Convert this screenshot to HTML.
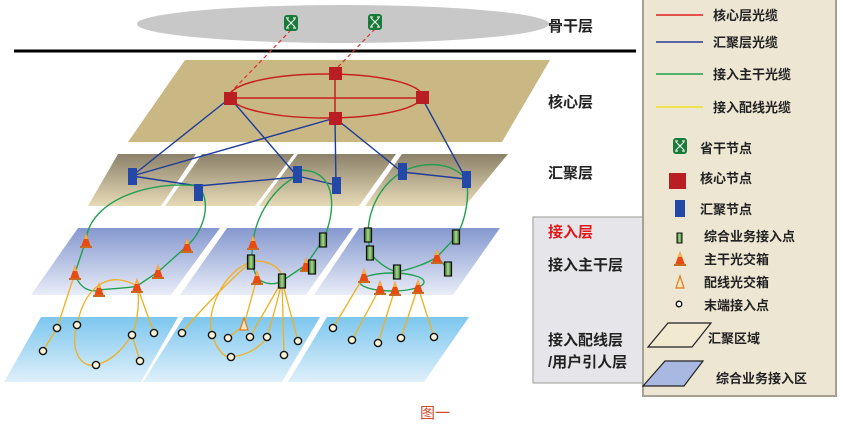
<!DOCTYPE html>
<html><head><meta charset="utf-8"><style>
html,body{margin:0;padding:0;background:#fff;}
svg{display:block;}
text{font-family:"Liberation Sans","Noto Sans CJK SC",sans-serif;}
</style></head><body>
<svg width="843" height="430" viewBox="0 0 843 430" xmlns="http://www.w3.org/2000/svg">
<defs>
<linearGradient id="agg" x1="0" y1="0" x2="0" y2="1"><stop offset="0" stop-color="#8c826a"/><stop offset="1" stop-color="#e6dab6"/></linearGradient>
<linearGradient id="acc" x1="0" y1="0" x2="0" y2="1"><stop offset="0" stop-color="#8598cf"/><stop offset="1" stop-color="#e9edf8"/></linearGradient>
<linearGradient id="dist" x1="0" y1="0" x2="0" y2="1"><stop offset="0" stop-color="#7cc6ee"/><stop offset="1" stop-color="#dff0fa"/></linearGradient>
<linearGradient id="gb" x1="0" y1="0" x2="1" y2="0"><stop offset="0" stop-color="#2e6a1e"/><stop offset="0.5" stop-color="#a8d890"/><stop offset="1" stop-color="#2e6a1e"/></linearGradient>
<g id="box"><rect x="-3.5" y="-7" width="7" height="14" fill="url(#gb)" stroke="#111" stroke-width="1.2"/></g>
<g id="cone"><polygon points="0,-9 5,5 -5,5" fill="#e84a10"/><polygon points="0,-9 2,-3 -2,-3" fill="#f8b040"/><rect x="-6" y="4" width="12" height="2" fill="#c86a20"/></g>
<g id="dot"><circle r="3.6" fill="#fbf3d8" stroke="#111" stroke-width="1.4"/></g>
<g id="sw"><rect x="-7" y="-8" width="14" height="16" rx="3" fill="#1a7a3a"/><path d="M-4,-4 L4,4 M4,-4 L-4,4 M-5,-5 h3 M2,-5 h3 M-5,5 h3 M2,5 h3" stroke="#e8f4e8" stroke-width="1.2" fill="none"/></g>
</defs>

<!-- backbone -->
<ellipse cx="343" cy="24" rx="206" ry="19" fill="#c8c8c8"/>
<line x1="14" y1="51" x2="636" y2="51" stroke="#000" stroke-width="3"/>
<text x="548" y="31" font-size="15" font-weight="bold" fill="#222">骨干层</text>

<!-- core plane -->
<polygon points="185,60 550,60 502,142 128,142" fill="#c9b884"/>
<text x="548" y="107" font-size="15" font-weight="bold" fill="#222">核心层</text>
<line x1="291" y1="30" x2="230" y2="93" stroke="#e03030" stroke-width="1.2" stroke-dasharray="4,3"/>
<line x1="375" y1="29" x2="335" y2="70" stroke="#e03030" stroke-width="1.2" stroke-dasharray="4,3"/>

<!-- agg planes -->
<polygon points="118,154 196,154 161,206 88,206" fill="url(#agg)"/>
<polygon points="202,154 294,154 255,206 165,206" fill="url(#agg)"/>
<polygon points="298,154 396,154 359,206 259,206" fill="url(#agg)"/>
<polygon points="402,154 508,154 465,206 365,206" fill="url(#agg)"/>
<text x="548" y="178" font-size="15" font-weight="bold" fill="#222">汇聚层</text>

<!-- access trunk planes -->
<polygon points="78,228 220,228 171,295 31,295" fill="url(#acc)"/>
<polygon points="227,228 353,228 306,295 180,295" fill="url(#acc)"/>
<polygon points="359,228 500,228 453,295 314,295" fill="url(#acc)"/>
<!-- dist planes -->
<polygon points="41,317 178,317 141,382 4,382" fill="url(#dist)"/>
<polygon points="184,317 320,317 282,382 143,382" fill="url(#dist)"/>
<polygon points="327,317 469,317 424,382 288,382" fill="url(#dist)"/>

<!-- core red lines -->
<g stroke="#c82020" stroke-width="1.5" fill="none">
<ellipse cx="326" cy="96" rx="96" ry="22"/>
<line x1="230" y1="98" x2="422" y2="98"/>
<line x1="335" y1="73" x2="335" y2="118"/>
</g>
<!-- blue lines -->
<g stroke="#1e3c9a" stroke-width="1.4" fill="none">
<line x1="230" y1="98" x2="132" y2="176"/>
<line x1="230" y1="98" x2="297" y2="176"/>
<line x1="335" y1="118" x2="132" y2="176"/>
<line x1="335" y1="118" x2="336" y2="185"/>
<line x1="335" y1="118" x2="402" y2="172"/>
<line x1="422" y1="98" x2="466" y2="179"/>
<line x1="132" y1="176" x2="198" y2="186"/>
<line x1="198" y1="186" x2="297" y2="177"/>
<line x1="297" y1="176" x2="336" y2="185"/>
<line x1="402" y1="172" x2="466" y2="179"/>
</g>
<!-- green lines -->
<g stroke="#20a050" stroke-width="1.4" fill="none">
<path d="M198,186 C150,180 90,200 86,240 L75,273 C80,292 95,292 99,290 C120,288 130,288 137,286 L158,272 L187,246 C205,230 212,200 198,186"/>
<path d="M297,176 C270,190 255,220 253,243 L251,262 L257,278 C265,285 275,285 282,281 L306,265 L323,240 C335,215 340,170 300,170"/>
<path d="M402,172 C380,185 368,210 368,235 L370,253 C380,265 390,270 397,272 C415,268 430,262 437,257 L456,237 C466,220 470,195 466,179 C450,160 420,162 402,172"/>
<line x1="437" y1="257" x2="448" y2="269"/>
<ellipse cx="392" cy="282" rx="32" ry="9"/>
</g>
<!-- yellow lines -->
<g stroke="#f0b020" stroke-width="1.3" fill="none">
<path d="M75,273 L57,328 L43,351"/>
<path d="M137,286 C110,270 85,285 77,325 C70,350 80,368 96,365 C115,360 125,345 132,335 C138,320 140,300 137,286"/>
<path d="M132,335 L140,361"/>
<path d="M137,286 L154,333"/>
<path d="M251,262 C230,280 200,310 182,333"/>
<path d="M251,262 C225,270 205,310 212,335 C218,352 225,358 231,357 C250,355 262,345 267,337 C272,320 278,300 282,281"/>
<path d="M251,262 C265,258 285,268 282,281"/>
<path d="M257,278 L244,325 L228,338"/>
<path d="M282,281 L250,337 M282,281 L284,355 M282,281 L298,341"/>
<path d="M364,276 L333,328 M380,288 L352,340 M395,289 L378,343 M418,287 L401,338 M418,287 L434,337"/>
</g>

<!-- nodes -->
<use href="#sw" x="291" y="23"/><use href="#sw" x="375" y="22"/>
<g fill="#b81e22"><rect x="224" y="92" width="13" height="13"/><rect x="329" y="67" width="13" height="13"/><rect x="416" y="91" width="13" height="13"/><rect x="329" y="112" width="13" height="13"/></g>
<g fill="#2448a8"><rect x="128" y="168" width="9" height="17"/><rect x="194" y="184" width="9" height="17"/><rect x="293" y="166" width="9" height="17"/><rect x="332" y="177" width="9" height="17"/><rect x="398" y="163" width="9" height="17"/><rect x="462" y="171" width="9" height="17"/></g>

<use href="#cone" x="86" y="242"/><use href="#cone" x="187" y="247"/><use href="#cone" x="75" y="274"/><use href="#cone" x="158" y="273"/><use href="#cone" x="99" y="291"/><use href="#cone" x="137" y="287"/>
<use href="#cone" x="253" y="244"/><use href="#cone" x="257" y="279"/><use href="#cone" x="306" y="266"/>
<use href="#cone" x="437" y="258"/><use href="#cone" x="364" y="277"/><use href="#cone" x="380" y="289"/><use href="#cone" x="395" y="290"/><use href="#cone" x="418" y="288"/>
<use href="#box" x="323" y="240"/><use href="#box" x="251" y="262"/><use href="#box" x="282" y="281"/><use href="#box" x="312" y="267"/>
<use href="#box" x="368" y="235"/><use href="#box" x="370" y="253"/><use href="#box" x="397" y="272"/><use href="#box" x="456" y="237"/><use href="#box" x="448" y="269"/>
<polygon points="244,318 248,330 240,330" fill="#fbe8c0" stroke="#e07a20" stroke-width="1.2"/>
<use href="#dot" x="57" y="328"/><use href="#dot" x="77" y="325"/><use href="#dot" x="43" y="351"/><use href="#dot" x="132" y="335"/><use href="#dot" x="154" y="333"/><use href="#dot" x="140" y="361"/><use href="#dot" x="96" y="365"/>
<use href="#dot" x="182" y="333"/><use href="#dot" x="212" y="335"/><use href="#dot" x="228" y="338"/><use href="#dot" x="250" y="337"/><use href="#dot" x="267" y="337"/><use href="#dot" x="298" y="341"/><use href="#dot" x="284" y="355"/><use href="#dot" x="231" y="357"/>
<use href="#dot" x="333" y="328"/><use href="#dot" x="352" y="340"/><use href="#dot" x="378" y="343"/><use href="#dot" x="401" y="338"/><use href="#dot" x="434" y="337"/>

<!-- access grey box -->
<rect x="533" y="217" width="115" height="166" fill="#e6e6ea" stroke="#a8a8a8" stroke-width="1.2"/>
<text x="548" y="237" font-size="15" font-weight="bold" fill="#e01818">接入层</text>
<text x="548" y="270" font-size="15" font-weight="bold" fill="#222">接入主干层</text>
<text x="548" y="345" font-size="15" font-weight="bold" fill="#222">接入配线层</text>
<text x="548" y="367" font-size="15" font-weight="bold" fill="#222">/用户引人层</text>

<!-- legend -->
<rect x="643" y="-2" width="193" height="398" fill="#ece6d3" stroke="#a8a090" stroke-width="2"/>
<g stroke-width="1.5"><line x1="656" y1="15" x2="703" y2="15" stroke="#e02020"/><line x1="656" y1="42" x2="703" y2="42" stroke="#2a3a9a"/><line x1="656" y1="74" x2="703" y2="74" stroke="#20a050"/><line x1="656" y1="107" x2="703" y2="107" stroke="#f0e020"/></g>
<g font-size="13" font-weight="bold" fill="#222">
<text x="713" y="20">核心层光缆</text><text x="713" y="47">汇聚层光缆</text><text x="713" y="79">接入主干光缆</text><text x="713" y="112">接入配线光缆</text>
<text x="700" y="153">省干节点</text><text x="700" y="183">核心节点</text><text x="700" y="214">汇聚节点</text>
<text x="704" y="241">综合业务接入点</text><text x="704" y="264">主干光交箱</text><text x="704" y="287">配线光交箱</text><text x="704" y="310">末端接入点</text>
<text x="708" y="343">汇聚区域</text><text x="716" y="383">综合业务接入区</text>
</g>
<use href="#sw" x="680" y="146" transform="translate(-0,0)"/>
<rect x="669" y="173" width="17" height="16" fill="#b81e22"/>
<rect x="675" y="200" width="10" height="17" fill="#2448a8"/>
<rect x="677" y="233" width="5" height="10" fill="url(#gb)" stroke="#111" stroke-width="1"/>
<use href="#cone" x="680" y="260" transform="translate(0,0)"/>
<polygon points="680,276 684,288 676,288" fill="#fbe8c0" stroke="#e07a20" stroke-width="1.2"/>
<circle cx="679" cy="304" r="2.8" fill="#fff" stroke="#111" stroke-width="1.3"/>
<polygon points="668,323 711,323 692,347 648,347" fill="#f1e9d0" stroke="#222" stroke-width="1.2"/>
<polygon points="665,361 703,361 684,386 643,386" fill="#a8b8e0" stroke="#222" stroke-width="1.2"/>

<text x="420" y="418" font-size="15" fill="#d04a2a">图一</text>
</svg>
</body></html>
